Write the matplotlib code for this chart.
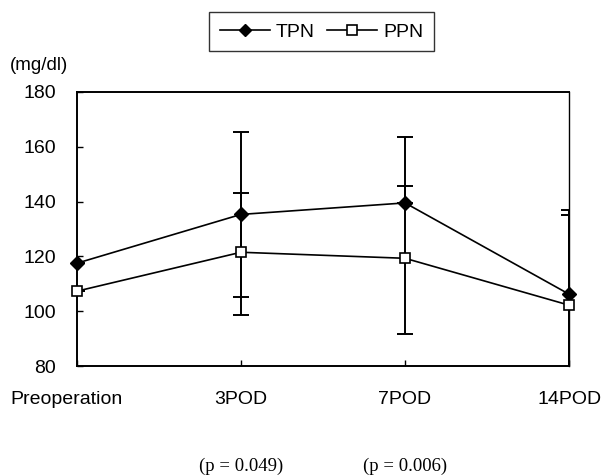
import matplotlib.pyplot as plt
import matplotlib.transforms as mtransforms

# ---------- data ----------
days = ["Preoperation", "3POD", "7POD", "14POD"]
tpn_mean = [117.5, 135.3, 139.5, 106.2]
ppn_mean = [107.3, 121.5, 119.3, 102.2]
tpn_err_up = [0, 30, 24, 29]
tpn_err_dn = [0, 30, 0, 29]
ppn_err_up = [0, 21.5, 26.5, 34.6]
ppn_err_dn = [0, 23, 27.5, 34.6]
p_values = ["(p = 0.049)", "(p = 0.006)"]
p_pos = [1, 2]

plt.rcParams["font.family"] = ["Liberation Sans", "DejaVu Sans"]

fig = plt.figure(figsize=(6.1, 4.76), dpi=100)
ax = fig.add_axes([0.126, 0.231, 0.807, 0.576])

x = list(range(len(days)))

ax.errorbar(x, tpn_mean, yerr=[tpn_err_dn, tpn_err_up], fmt="none",
            ecolor="black", elinewidth=1.4, capsize=5.5, capthick=1.4, zorder=2)
ax.errorbar(x, ppn_mean, yerr=[ppn_err_dn, ppn_err_up], fmt="none",
            ecolor="black", elinewidth=1.4, capsize=5.5, capthick=1.4, zorder=2)

ax.plot(x, tpn_mean, color="black", lw=1.2, marker="D", ms=7,
        mfc="black", mec="black", label="TPN", zorder=3, clip_on=False)
ax.plot(x, ppn_mean, color="black", lw=1.2, marker="s", ms=7.5,
        mfc="white", mec="black", mew=1.2, label="PPN", zorder=4, clip_on=False)

ax.set_xlim(0, 3)
ax.set_ylim(80, 180)
ax.set_yticks([80, 100, 120, 140, 160, 180])
ax.set_xticks(x)
ax.set_xticklabels(days, fontsize=14)
ax.tick_params(axis="y", direction="in", length=4, width=1, labelsize=14, pad=15)
ax.tick_params(axis="x", direction="in", length=4, width=1, pad=18)
for s in ax.spines.values():
    s.set_linewidth(1.4)
ax.spines["right"].set_linewidth(1.0)

# first label sits a little left of its tick in the original
lbl0 = ax.get_xticklabels()[0]
lbl0.set_transform(lbl0.get_transform() +
                   mtransforms.ScaledTranslation(-10 / 100, 0, fig.dpi_scale_trans))

fig.text(0.016, 0.862, "(mg/dl)", fontsize=13.5, ha="left", va="center")

for pos, txt in zip(p_pos, p_values):
    ax.text(pos, -0.365, txt, transform=ax.get_xaxis_transform(),
            ha="center", va="center", fontsize=13.5, family="Liberation Serif")

leg = fig.legend(loc="center", bbox_to_anchor=(0.527, 0.933), ncol=2,
                 fontsize=14, frameon=True, fancybox=False, edgecolor="black",
                 handlelength=2.6, handletextpad=0.3, columnspacing=0.6,
                 borderpad=0.55, borderaxespad=0, markerscale=0.9)
leg.get_frame().set_linewidth(1.0)

fig.savefig("out.png", dpi=100)
